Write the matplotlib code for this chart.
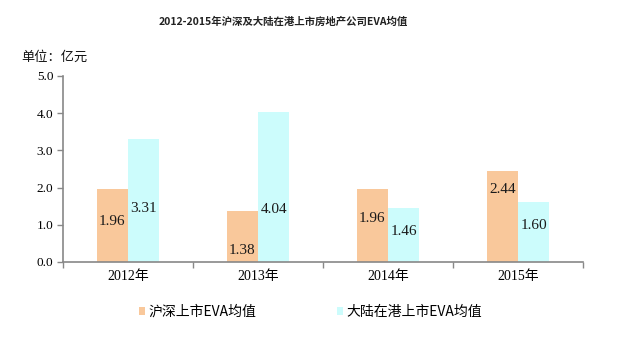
import matplotlib
matplotlib.use("Agg")
import matplotlib.pyplot as plt
import numpy as np

years = ["2012年", "2013年", "2014年", "2015年"]
series_names = ["沪深上市EVA均值", "大陆在港上市EVA均值"]
hs_values = [1.96, 1.38, 1.96, 2.44]
hk_values = [3.31, 4.04, 1.46, 1.60]
y_ticks = [0.0, 1.0, 2.0, 3.0, 4.0, 5.0]

# vertical placement of the value labels inside the bars (data units)
hs_label_y = [1.08, 0.32, 1.16, 1.96]
hk_label_y = [1.45, 1.42, 0.81, 0.99]

serif = ["Liberation Serif", "Noto Sans CJK SC"]
cjk = ["Noto Sans CJK SC", "DejaVu Sans"]
plt.rcParams["font.family"] = cjk

fig = plt.figure(figsize=(6.38, 3.37), dpi=100)
ax = fig.add_axes([63 / 638, 1 - 262 / 337, 520 / 638, 186 / 337])

x = np.arange(len(years))
w = 0.24
c_hs = "#F9C89B"
c_hk = "#CCFCFC"
b1 = ax.bar(x - w / 2, hs_values, w, color=c_hs, label=series_names[0])
b2 = ax.bar(x + w / 2, hk_values, w, color=c_hk, label=series_names[1])

for i in range(len(years)):
    ax.text(x[i] - w / 2, hs_label_y[i], f"{hs_values[i]:.2f}", ha="center", va="center",
            family=serif, fontsize=11, color="#1a1a1a")
    ax.text(x[i] + w / 2, hk_label_y[i], f"{hk_values[i]:.2f}", ha="center", va="center",
            family=serif, fontsize=11, color="#1a1a1a")

ax.set_xlim(-0.5, len(years) - 0.5)
ax.set_ylim(0, 5)
ax.set_yticks(y_ticks)
ax.set_yticklabels([f"{v:.1f}" for v in y_ticks], family=serif, fontsize=9.5)
ax.set_xticks(x)
ax.set_xticklabels(years, family=serif, fontsize=10)
ax.set_xticks(np.arange(len(years) + 1) - 0.5, minor=True)
ax.tick_params(axis="x", which="major", length=0, pad=6)
ax.tick_params(axis="x", which="minor", length=4, color="#888888", width=1)
ax.tick_params(axis="y", length=4, color="#888888", width=1, pad=3)

for s in ["top", "right"]:
    ax.spines[s].set_visible(False)
for s in ["left", "bottom"]:
    ax.spines[s].set_color("#888888")
    ax.spines[s].set_linewidth(1.2)

fig.text(283 / 638, 1 - 22 / 337, "2012-2015年沪深及大陆在港上市房地产公司EVA均值",
         ha="center", va="center", fontsize=7.5, fontweight="bold", color="#222222",
         family=cjk)
fig.text(21 / 638, 1 - 57 / 337, "单位：亿元", ha="left", va="center", fontsize=9.5,
         color="#111111", family=cjk)

leg = fig.legend(handles=[b1, b2], loc="center", bbox_to_anchor=(0.487, 1 - 312 / 337),
                 ncol=2, frameon=False, handlelength=0.45, handleheight=0.45,
                 handletextpad=0.25, columnspacing=5.8, prop={"family": cjk, "size": 10})

fig.savefig("out.png", dpi=100)
